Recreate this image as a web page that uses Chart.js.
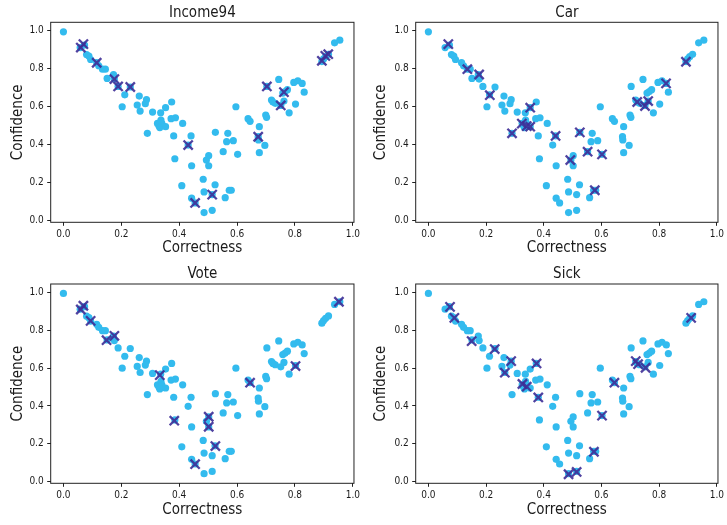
<!DOCTYPE html>
<html><head><meta charset="utf-8">
<script src="https://cdn.jsdelivr.net/npm/chart.js@4.4.1/dist/chart.umd.min.js"></script>
<style>
html,body{margin:0;padding:0;background:#fff;width:727px;height:525px;overflow:hidden}
canvas{position:absolute}
</style></head>
<body>
<canvas id="c0" width="363" height="262" style="left:0px;top:0px"></canvas>
<canvas id="c1" width="364" height="262" style="left:363px;top:0px"></canvas>
<canvas id="c2" width="363" height="263" style="left:0px;top:262px"></canvas>
<canvas id="c3" width="364" height="263" style="left:363px;top:262px"></canvas>
<script>
// ---------- data ----------
const tickValues = [0.0, 0.2, 0.4, 0.6, 0.8, 1.0];
const panelTitles = ["Income94", "Car", "Vote", "Sick"];
const xLabel = "Correctness";
const yLabel = "Confidence";

// all instances: [correctness, confidence]
const allPoints = [
 [0.000,0.995],
 [0.058,0.912],[0.073,0.925],
 [0.080,0.875],[0.088,0.867],[0.094,0.849],
 [0.115,0.832],[0.122,0.816],[0.135,0.798],[0.145,0.798],
 [0.151,0.749],[0.173,0.770],[0.176,0.746],[0.189,0.707],
 [0.212,0.663],[0.203,0.600],[0.231,0.704],
 [0.262,0.656],[0.255,0.609],[0.265,0.577],[0.287,0.637],[0.283,0.616],[0.290,0.460],
 [0.308,0.572],[0.325,0.512],[0.330,0.500],[0.336,0.568],[0.337,0.530],[0.340,0.512],[0.333,0.490],[0.353,0.595],[0.353,0.495],
 [0.374,0.625],[0.372,0.537],[0.387,0.542],[0.381,0.446],[0.385,0.326],
 [0.412,0.512],[0.409,0.184],[0.431,0.398],[0.441,0.446],[0.443,0.289],[0.443,0.118],[0.455,0.093],
 [0.483,0.218],[0.486,0.151],[0.486,0.042],[0.494,0.319],[0.502,0.342],[0.502,0.289],[0.514,0.137],[0.514,0.054],[0.524,0.189],[0.525,0.465],
 [0.552,0.363],[0.559,0.121],[0.564,0.416],[0.568,0.460],[0.573,0.160],[0.580,0.160],[0.587,0.421],[0.596,0.600],[0.602,0.349],
 [0.638,0.537],[0.645,0.523],[0.677,0.495],[0.673,0.442],[0.674,0.425],[0.677,0.358],[0.696,0.396],[0.699,0.556],[0.702,0.544],[0.703,0.707],
 [0.719,0.635],[0.724,0.625],[0.732,0.618],[0.744,0.744],[0.751,0.607],[0.762,0.630],[0.758,0.672],[0.766,0.680],[0.774,0.690],[0.780,0.568],
 [0.796,0.728],[0.802,0.614],[0.810,0.737],[0.825,0.723],[0.832,0.677],
 [0.893,0.838],[0.899,0.852],[0.906,0.864],[0.916,0.876],[0.937,0.937],[0.955,0.951]
];

// highlighted (x-marked) instances per data set
const income94Marked = [
 [0.060,0.912],[0.069,0.930],[0.115,0.832],[0.176,0.746],[0.189,0.707],[0.231,0.704],
 [0.431,0.398],[0.455,0.093],[0.514,0.137],[0.673,0.442],[0.703,0.707],[0.751,0.607],
 [0.762,0.677],[0.893,0.842],[0.905,0.868],[0.915,0.877]
];
const carMarked = [
 [0.069,0.930],[0.135,0.798],[0.176,0.770],[0.213,0.661],[0.290,0.460],[0.324,0.511],
 [0.341,0.498],[0.353,0.495],[0.353,0.595],[0.441,0.446],[0.492,0.319],[0.525,0.465],
 [0.552,0.363],[0.577,0.160],[0.602,0.349],[0.724,0.625],[0.751,0.604],[0.762,0.630],
 [0.824,0.723],[0.893,0.837]
];
const voteMarked = [
 [0.060,0.910],[0.069,0.930],[0.094,0.850],[0.149,0.748],[0.176,0.771],[0.333,0.563],
 [0.383,0.322],[0.455,0.092],[0.502,0.343],[0.502,0.290],[0.525,0.188],[0.645,0.523],
 [0.802,0.611],[0.952,0.951]
];
const sickMarked = [
 [0.075,0.924],[0.090,0.866],[0.150,0.743],[0.230,0.701],[0.265,0.576],[0.287,0.637],
 [0.326,0.516],[0.341,0.502],[0.375,0.625],[0.381,0.445],[0.486,0.039],[0.514,0.051],
 [0.574,0.158],[0.602,0.349],[0.645,0.523],[0.719,0.637],[0.727,0.621],[0.753,0.602],
 [0.911,0.866]
];
const markedSets = [income94Marked, carMarked, voteMarked, sickMarked];

// ---------- drawing ----------
const FONT = '"DejaVu Sans Condensed","DejaVu Sans",sans-serif';
const TEXT = '#1a1a1a';
const layouts = [
 {id:'c0', w:363, h:262, l:50.7, r:357.3, t:22.3, b:222.3, xtp:5},
 {id:'c1', w:364, h:262, l:52.7, r:358.7, t:22.3, b:222.3, xtp:5},
 {id:'c2', w:363, h:263, l:50.7, r:357.3, t:22.0, b:221.3, xtp:6},
 {id:'c3', w:364, h:263, l:52.7, r:358.7, t:22.0, b:221.3, xtp:6}
];
const X_MIN = -0.044, X_MAX = 1.004, Y_MIN = -0.009, Y_MAX = 1.045;

const framePlugin = {
  id:'frame',
  afterDraw(chart){
    const a = chart.chartArea, ctx = chart.ctx;
    ctx.save();
    ctx.strokeStyle = '#222';
    ctx.lineWidth = 1;
    ctx.strokeRect(a.left, a.top, a.right - a.left, a.bottom - a.top);
    ctx.restore();
  }
};

const toXY = arr => arr.map(p => ({x:p[0], y:p[1]}));
const fmt = v => Number(v).toFixed(1);

layouts.forEach((L, i) => {
  new Chart(document.getElementById(L.id), {
    type:'scatter',
    data:{datasets:[
      {label:'marked', data:toXY(markedSets[i]), pointStyle:'crossRot', pointRadius:6.5,
       borderColor:'rgba(62,46,150,0.9)', backgroundColor:'rgba(62,46,150,0.9)', borderWidth:2.3, order:0},
      {label:'all', data:toXY(allPoints), pointStyle:'circle', pointRadius:3.6,
       backgroundColor:'#33BBEE', borderColor:'#33BBEE', borderWidth:0, order:1}
    ]},
    options:{
      responsive:false, animation:false, devicePixelRatio:1, events:[],
      layout:{padding:{left:0, right:L.w - L.r, top:0, bottom:0}},
      plugins:{ legend:{display:false}, tooltip:{enabled:false}, title:{display:false} },
      scales:{
        x:{type:'linear', min:X_MIN, max:X_MAX,
           afterBuildTicks:s => { s.ticks = tickValues.map(v => ({value:v})); },
           afterFit:s => { s.height = L.h - L.b; },
           border:{display:false},
           grid:{display:true, drawOnChartArea:false, drawTicks:true, tickLength:3.5, color:'#222'},
           ticks:{font:{family:FONT, size:10}, color:TEXT, padding:3, maxRotation:0, autoSkip:false, callback:fmt},
           title:{display:true, text:xLabel, color:TEXT, font:{family:FONT, size:15, lineHeight:1.2}, padding:{top:0, bottom:L.xtp}}
        },
        top:{type:'linear', position:'top', min:X_MIN, max:X_MAX,
           afterFit:s => { s.height = L.t; },
           border:{display:false},
           grid:{display:false, drawTicks:false},
           ticks:{display:false},
           title:{display:true, text:panelTitles[i], color:TEXT, font:{family:FONT, size:15, lineHeight:1.2}, padding:{top:L.t - 18.5, bottom:0}}
        },
        y:{type:'linear', min:Y_MIN, max:Y_MAX,
           afterBuildTicks:s => { s.ticks = tickValues.map(v => ({value:v})); },
           afterFit:s => { s.width = L.l; },
           border:{display:false},
           grid:{display:true, drawOnChartArea:false, drawTicks:true, tickLength:3.5, color:'#222'},
           ticks:{font:{family:FONT, size:10}, color:TEXT, padding:3.5, autoSkip:false, callback:fmt},
           title:{display:true, text:yLabel, color:TEXT, font:{family:FONT, size:15, lineHeight:1.2}, padding:{top:9, bottom:0}}
        }
      }
    },
    plugins:[framePlugin]
  });
});
</script>
</body></html>
